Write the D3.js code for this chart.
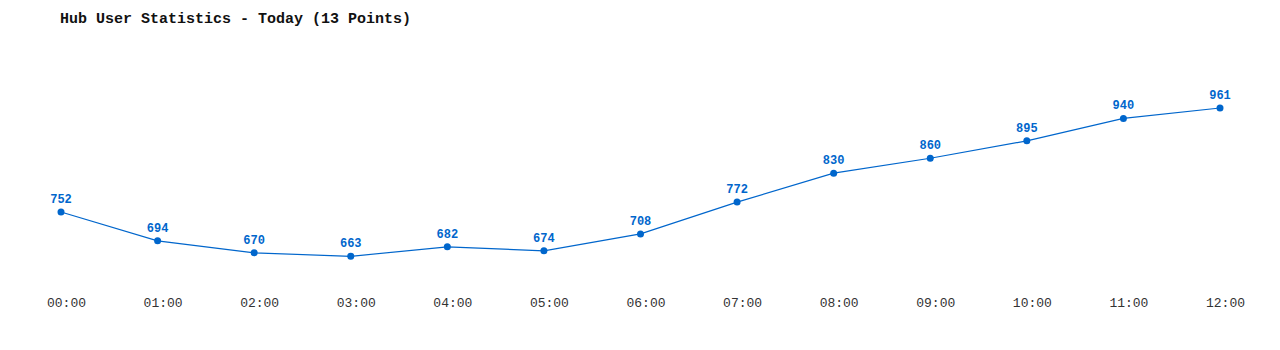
<!DOCTYPE html>
<html>
<head>
<meta charset="utf-8">
<script src="https://cdn.jsdelivr.net/npm/d3@7"></script>
<style>
body { margin: 0; padding: 0; background: #fff; }
</style>
</head>
<body>
<script>
// data
var hours = ["00:00","01:00","02:00","03:00","04:00","05:00","06:00","07:00","08:00","09:00","10:00","11:00","12:00"];
var users = [752,694,670,663,682,674,708,772,830,860,895,940,961];

var width = 1280;
var height = 350;
var lineColor = "#0066cc";
var mono = "Liberation Mono, Courier New, monospace";

var svg = d3.select("body")
    .append("svg")
    .attr("width", width)
    .attr("height", height)
    .style("display", "block");

var x = d3.scalePoint()
    .domain(hours)
    .range([61, 1220]);

var y = d3.scaleLinear()
    .domain([663, 961])
    .range([256.3, 108]);

svg.append("text")
    .attr("x", 60)
    .attr("y", 23)
    .attr("font-family", mono)
    .attr("font-size", 15)
    .attr("font-weight", "bold")
    .attr("fill", "#111")
    .text("Hub User Statistics - Today (13 Points)");

var pts = hours.map(function(h, i) { return {h: h, v: users[i]}; });

var line = d3.line()
    .x(function(d) { return x(d.h); })
    .y(function(d) { return y(d.v); });

svg.append("path")
    .datum(pts)
    .attr("fill", "none")
    .attr("stroke", lineColor)
    .attr("stroke-width", 1.2)
    .attr("d", line);

svg.selectAll("circle")
    .data(pts)
    .enter()
    .append("circle")
    .attr("cx", function(d) { return x(d.h); })
    .attr("cy", function(d) { return y(d.v); })
    .attr("r", 3.5)
    .attr("fill", lineColor);

svg.selectAll("text.val")
    .data(pts)
    .enter()
    .append("text")
    .attr("class", "val")
    .attr("x", function(d) { return x(d.h); })
    .attr("y", function(d) { return y(d.v) - 9; })
    .attr("text-anchor", "middle")
    .attr("font-family", mono)
    .attr("font-size", 12)
    .attr("font-weight", "bold")
    .attr("fill", lineColor)
    .text(function(d) { return d.v; });

// x axis labels only, no line
var xAxis = svg.append("g")
    .attr("transform", "translate(0,290)")
    .call(d3.axisBottom(x).tickSize(0).tickPadding(8));
xAxis.select(".domain").remove();
xAxis.selectAll("text")
    .attr("dx", 5)
    .attr("font-family", mono)
    .attr("font-size", 13)
    .attr("fill", "#333");
</script>
</body>
</html>
